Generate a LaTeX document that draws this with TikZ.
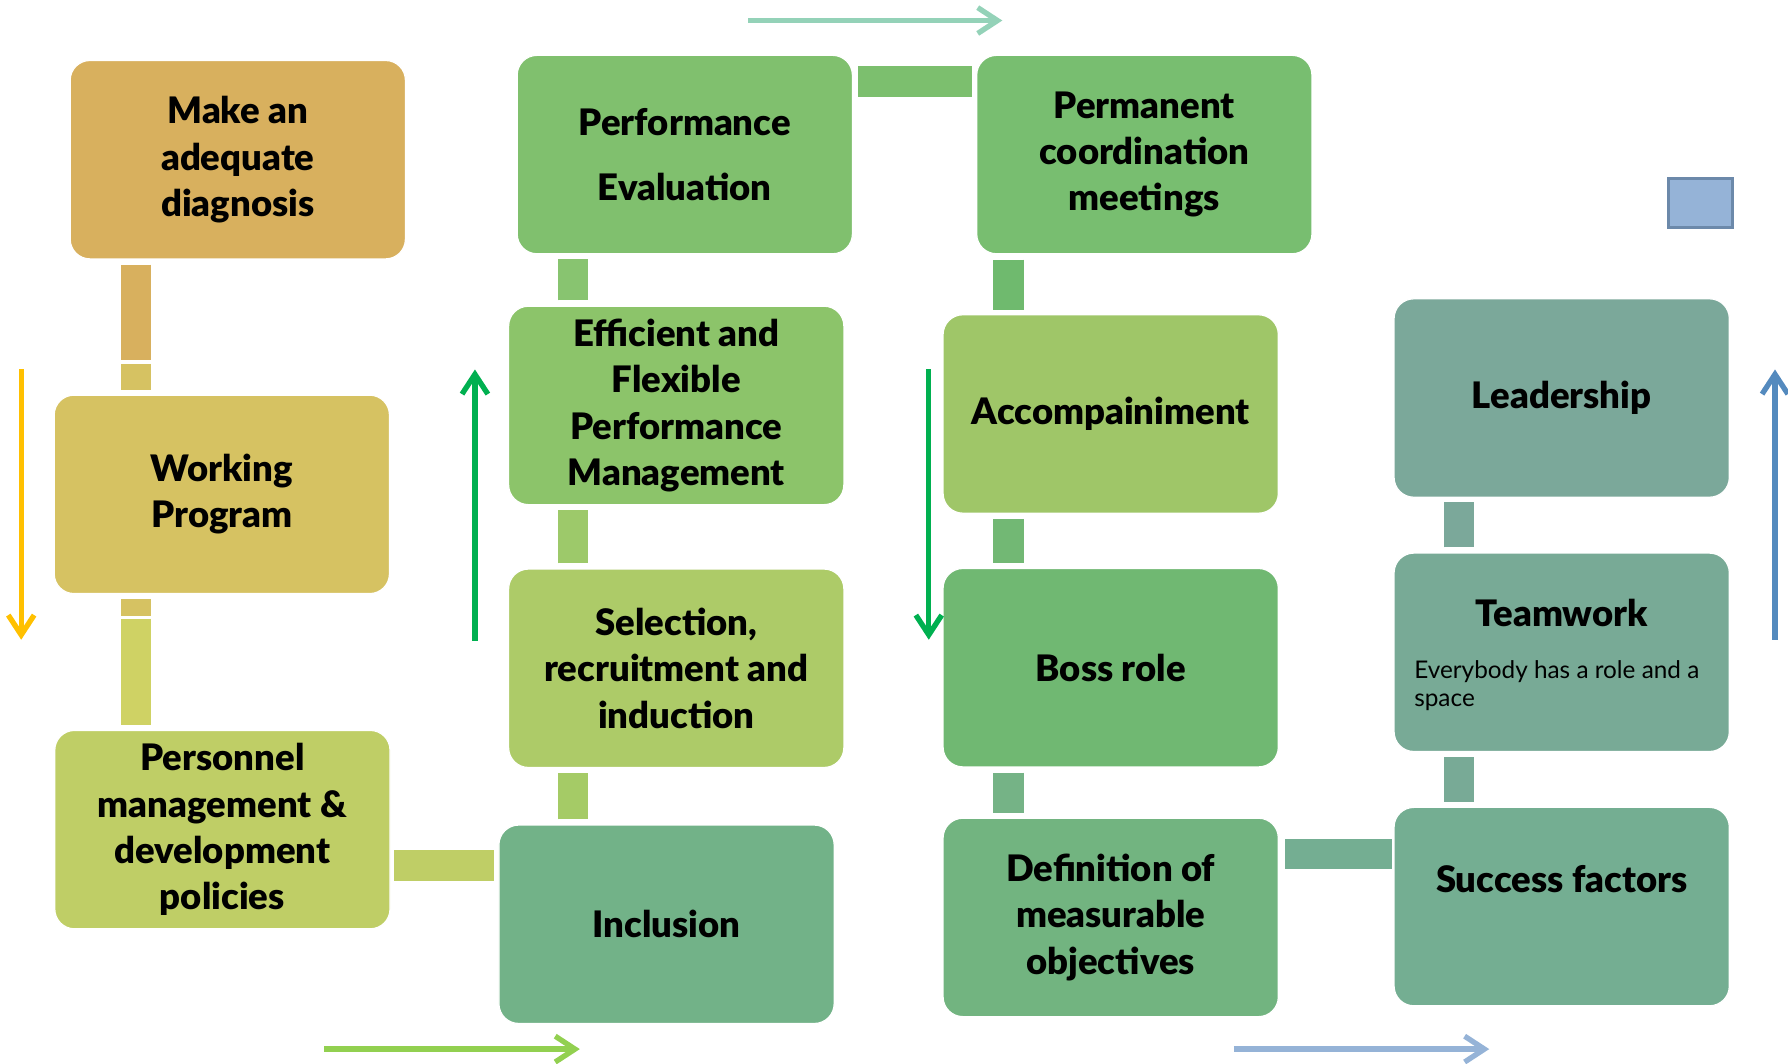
\documentclass[tikz,border=0pt]{standalone}
\usepackage{fontspec}
\IfFontExistsTF{Lato Black}{\setmainfont{Lato}[BoldFont={Lato Black}]}{\setmainfont{Lato}}
\usetikzlibrary{arrows.meta}

\begin{document}
\begin{tikzpicture}[x=0.75pt,y=0.75pt,yscale=-1,xscale=1,
  box/.style={draw=white, line width=0.8pt, rounded corners=13pt, anchor=north west, minimum width=220.5pt, minimum height=130.5pt, align=center, inner sep=2pt, font=\bfseries\fontsize{24}{30.4}\selectfont},
  bar/.style={line width=19.9pt, shorten <=3.4pt, shorten >=3pt},
  flow/.style={line width=3.5pt, -{Straight Barb[length=13pt,width=17pt]}}]
	\useasboundingbox (0,0) rectangle (1568,933);

	%Shape: Rounded Rect [column 1]
	\node [box, fill={rgb, 255:red, 216; green, 176; blue, 94 }] (mk) at (61,52.5) {Make an\\adequate\\diagnosis};
	\node [box, fill={rgb, 255:red, 214; green, 194; blue, 98 }] (wp) at (47,346) {Working\\Program};
	\node [box, fill={rgb, 255:red, 191; green, 206; blue, 102 }] (pm) at (47.5,640) {Personnel\\management \&\\development\\policies};
	%Shape: Rounded Rect [column 2]
	\node [box, fill={rgb, 255:red, 128; green, 192; blue, 110 }, font=\bfseries\fontsize{24}{42.4}\selectfont] (pe) at (453,48) {Performance\\Evaluation};
	\node [box, fill={rgb, 255:red, 140; green, 196; blue, 106 }] (ef) at (445.5,268) {Efficient and\\Flexible\\Performance\\Management};
	\node [box, fill={rgb, 255:red, 173; green, 203; blue, 104 }] (sr) at (445.5,498.5) {Selection,\\recruitment and\\induction};
	\node [box, fill={rgb, 255:red, 114; green, 178; blue, 136 }] (in) at (437,723) {Inclusion};
	%Shape: Rounded Rect [column 3]
	\node [box, fill={rgb, 255:red, 120; green, 190; blue, 112 }] (pc) at (856,48) {Permanent\\coordination\\meetings};
	\node [box, fill={rgb, 255:red, 159; green, 198; blue, 104 }] (ac) at (826.5,275.5) {Accompainiment};
	\node [box, fill={rgb, 255:red, 112; green, 184; blue, 114 }] (br) at (826.5,498) {Boss role};
	\node [box, fill={rgb, 255:red, 114; green, 180; blue, 128 }] (dm) at (826.5,717) {Definition of\\measurable\\objectives};
	%Shape: Rounded Rect [column 4]
	\node [box, fill={rgb, 255:red, 123; green, 168; blue, 154 }] (ld) at (1222,261.5) {Leadership};
	\node [box, fill={rgb, 255:red, 120; green, 170; blue, 150 }] (tm) at (1222,484.5) {};
	\node [box, fill={rgb, 255:red, 116; green, 174; blue, 146 }] (sf) at (1222,707.5) {};
	%Shape: Square
	\node [draw={rgb, 255:red, 108; green, 137; blue, 170 }, line width=2pt, fill={rgb, 255:red, 149; green, 179; blue, 215 }, anchor=north west, minimum width=42pt, minimum height=32pt, inner sep=0pt] (sq) at (1462,155.5) {};

	% Text Node
	\node [anchor=base, inner sep=0pt, font=\bfseries\fontsize{24}{30.4}\selectfont] (tmhd) at ([yshift=48.4pt]tm.north) {Teamwork};
	% Text Node
	\node [anchor=north west, align=left, inner sep=0pt, font=\fontsize{16}{18.3}\selectfont] (tmtx) at ([xshift=13.5pt,yshift=70.7pt]tm.north west) {Everybody has a role and a\\space};
	% Text Node
	\node [anchor=base, inner sep=0pt, font=\bfseries\fontsize{24}{30.4}\selectfont] (sftx) at ([yshift=56.7pt]sf.north) {Success factors};

	%Straight Lines [bars]
	\draw [bar, color={rgb, 255:red, 216; green, 176; blue, 94 }, shorten >=22.9pt] ([xshift=43.9pt]mk.south west) -- ([xshift=43.9pt]mk.south west |- wp.north);
	\draw [bar, color={rgb, 255:red, 214; green, 194; blue, 98 }, shorten <=68.6pt] ([xshift=43.9pt]mk.south west) -- ([xshift=43.9pt]mk.south west |- wp.north);
	\draw [bar, color={rgb, 255:red, 214; green, 194; blue, 98 }, shorten >=75pt] ([xshift=54.4pt]wp.south west) -- ([xshift=54.4pt]wp.south west |- pm.north);
	\draw [bar, color={rgb, 255:red, 207; green, 210; blue, 100 }, shorten <=16pt] ([xshift=54.4pt]wp.south west) -- ([xshift=54.4pt]wp.south west |- pm.north);
	\draw [bar, color={rgb, 255:red, 191; green, 206; blue, 102 }, shorten <=2.5pt] ([yshift=89.2pt]pm.north east) -- ([yshift=89.2pt]pm.north east -| in.west);
	\draw [bar, color={rgb, 255:red, 165; green, 203; blue, 102 }] ([xshift=49.3pt]in.north west) -- ([xshift=49.3pt]in.north west |- sr.south);
	\draw [bar, color={rgb, 255:red, 157; green, 201; blue, 106 }] ([xshift=42.9pt]sr.north west) -- ([xshift=42.9pt]sr.north west |- ef.south);
	\draw [bar, color={rgb, 255:red, 136; green, 196; blue, 112 }] ([xshift=42.9pt]ef.north west) -- ([xshift=42.9pt]ef.north west |- pe.south);
	\draw [bar, color={rgb, 255:red, 124; green, 191; blue, 110 }] ([yshift=17.6pt]pe.north east) -- ([yshift=17.6pt]pe.north east -| pc.west);
	\draw [bar, color={rgb, 255:red, 111; green, 186; blue, 110 }] ([xshift=21.3pt]pc.south west) -- ([xshift=21.3pt]pc.south west |- ac.north);
	\draw [bar, color={rgb, 255:red, 114; green, 184; blue, 116 }] ([xshift=43.4pt]ac.south west) -- ([xshift=43.4pt]ac.south west |- br.north);
	\draw [bar, color={rgb, 255:red, 117; green, 179; blue, 134 }] ([xshift=43.4pt]br.south west) -- ([xshift=43.4pt]br.south west |- dm.north);
	\draw [bar, color={rgb, 255:red, 116; green, 174; blue, 146 }, shorten <=4pt, shorten >=1pt] ([yshift=24pt]dm.north east) -- ([yshift=24pt]dm.north east -| sf.west);
	\draw [bar, color={rgb, 255:red, 120; green, 170; blue, 150 }] ([xshift=43.1pt]sf.north west) -- ([xshift=43.1pt]sf.north west |- tm.south);
	\draw [bar, color={rgb, 255:red, 123; green, 168; blue, 154 }] ([xshift=43.1pt]tm.north west) -- ([xshift=43.1pt]tm.north west |- ld.south);

	%Straight Lines [arrows]
	\coordinate (ya) at (18.6,324);
	\coordinate (yb) at (18.6,561);
	\draw [flow, color={rgb, 255:red, 255; green, 192; blue, 0 }] (ya) -- (yb);
	\coordinate (ga) at (416.5,562);
	\coordinate (gb) at (416.5,324);
	\draw [flow, color={rgb, 255:red, 0; green, 176; blue, 80 }] (ga) -- (gb);
	\coordinate (gc) at (814.5,324);
	\coordinate (gd) at (814.5,561);
	\draw [flow, color={rgb, 255:red, 0; green, 176; blue, 80 }] (gc) -- (gd);
	\coordinate (ba) at (1556.6,561);
	\coordinate (bb) at (1556.6,324);
	\draw [flow, color={rgb, 255:red, 84; green, 138; blue, 190 }] (ba) -- (bb);
	\coordinate (ma) at (656,18);
	\coordinate (mb) at (879,18);
	\draw [flow, color={rgb, 255:red, 148; green, 210; blue, 184 }] (ma) -- (mb);
	\coordinate (la) at (284.4,920);
	\coordinate (lb) at (508.5,920);
	\draw [flow, color={rgb, 255:red, 146; green, 208; blue, 80 }] (la) -- (lb);
	\coordinate (sa) at (1082,920);
	\coordinate (sb) at (1306,920);
	\draw [flow, color={rgb, 255:red, 149; green, 179; blue, 215 }] (sa) -- (sb);

\end{tikzpicture}
\end{document}
